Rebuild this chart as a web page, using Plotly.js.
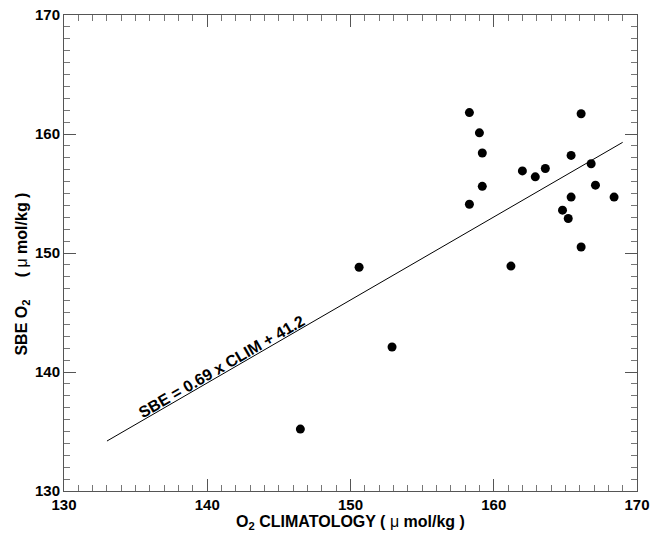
<!DOCTYPE html>
<html>
<head>
<meta charset="utf-8">
<script src="https://cdn.plot.ly/plotly-3.0.1.min.js"></script>
<style>html,body{margin:0;padding:0;background:#fff;}</style>
</head>
<body>
<div id="chart" style="width:650px;height:533px;"></div>
<script>
// Data
const climO2 = [146.5, 150.6, 152.9, 158.3, 159.0, 159.2, 159.2, 158.3, 162.0, 162.9, 163.6,
                166.1, 165.4, 166.8, 167.1, 165.4, 168.4, 164.8, 165.2, 166.1, 161.2];
const sbeO2  = [135.2, 148.8, 142.1, 161.8, 160.1, 158.4, 155.6, 154.1, 156.9, 156.4, 157.1,
                161.7, 158.2, 157.5, 155.7, 154.7, 154.7, 153.6, 152.9, 150.5, 148.9];
const fitX = [133.0, 169.0];
const fitY = [134.2, 159.3];
const fitLabel = 'SBE = 0.69 x CLIM + 41.2';
const xTicks = [130, 140, 150, 160, 170];
const yTicks = [130, 140, 150, 160, 170];

const FONT = 'Liberation Sans, Arial, Helvetica, sans-serif';
const NB = '\u00a0';
const axisCommon = {
  showgrid: false, zeroline: false,
  showline: true, linecolor: '#555', linewidth: 1, mirror: 'ticks',
  ticks: 'inside', ticklen: 12, tickcolor: '#555', tickwidth: 1,
  minor: {ticks: 'inside', ticklen: 6, tickcolor: '#777', tickwidth: 1, dtick: 1},
  tickfont: {family: FONT, size: 15, color: '#000', weight: 'bold'},
  tickmode: 'array'
};

const traces = [
  {x: fitX, y: fitY, mode: 'lines', type: 'scatter',
   line: {color: '#000', width: 1}, hoverinfo: 'skip'},
  {x: climO2, y: sbeO2, mode: 'markers', type: 'scatter',
   marker: {color: '#000', size: 9}}
];

const layout = {
  width: 650, height: 533,
  margin: {l: 64, r: 13, t: 15, b: 42},
  paper_bgcolor: '#fff', plot_bgcolor: '#fff',
  showlegend: false,
  xaxis: Object.assign({}, axisCommon, {
    range: [130, 170], tickvals: xTicks, ticktext: xTicks.map(String),
    title: {text: 'O<sub>2</sub> CLIMATOLOGY ( <span style="font-weight:normal">μ</span> mol/kg )',
            font: {family: FONT, size: 16, color: '#000', weight: 'bold'}, standoff: 3}
  }),
  yaxis: Object.assign({}, axisCommon, {
    range: [130, 170], tickvals: yTicks, ticktext: yTicks.map(String)
  }),
  annotations: [
    {
      x: 141.0, y: 140.5, xref: 'x', yref: 'y',
      text: fitLabel, showarrow: false, textangle: -30,
      font: {family: FONT, size: 16, color: '#000', weight: 'bold'}
    },
    {
      // y-axis title
      x: -0.073, y: 148.2, xref: 'paper', yref: 'y', xanchor: 'center', yanchor: 'middle',
      text: 'SBE O<sub>2</sub>' + NB.repeat(5) + '( <span style="font-weight:normal">μ</span> mol/kg )',
      showarrow: false, textangle: -90,
      font: {family: FONT, size: 16, color: '#000', weight: 'bold'}
    }
  ]
};

Plotly.newPlot('chart', traces, layout, {displayModeBar: false, staticPlot: true});
</script>
</body>
</html>
